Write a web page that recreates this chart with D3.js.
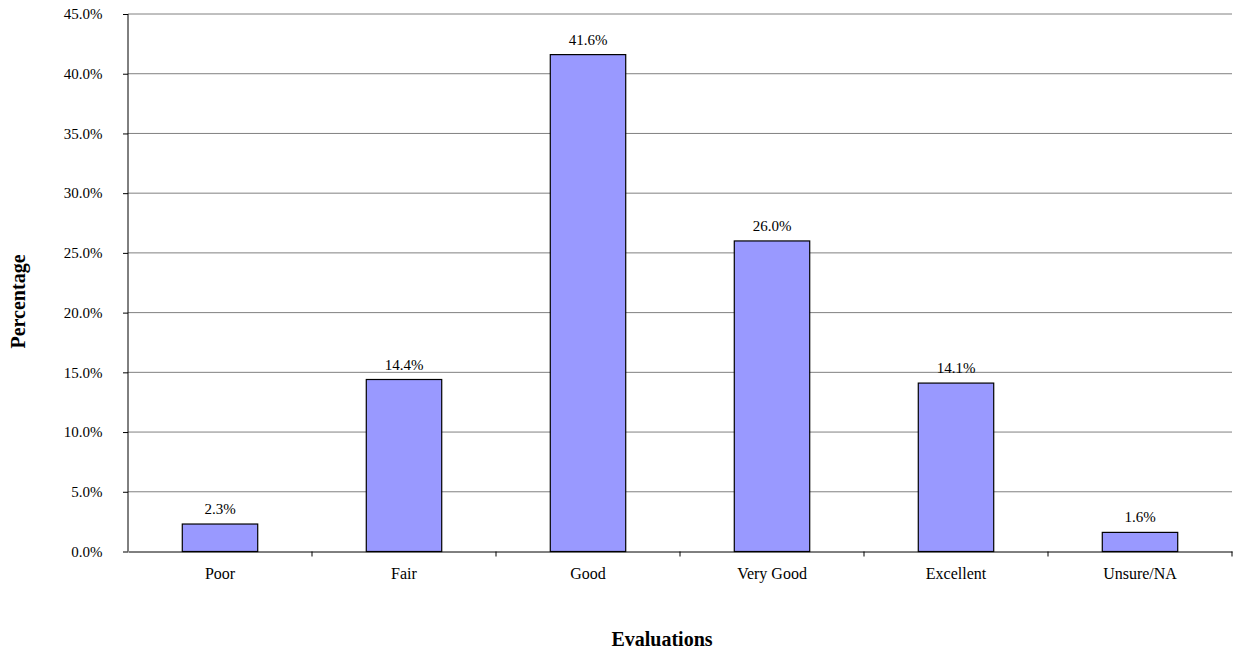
<!DOCTYPE html>
<html><head><meta charset="utf-8">
<script src="https://cdn.jsdelivr.net/npm/d3@7"></script>
<style>body{margin:0;background:#fff}svg{display:block}text{font-family:"Liberation Serif","Times New Roman",serif}</style>
</head><body><svg id="c" width="1233" height="656"></svg>
<script>
const categories = ["Poor","Fair","Good","Very Good","Excellent","Unsure/NA"];
const values = [2.3,14.4,41.6,26.0,14.1,1.6];
const yTicks = [0,5,10,15,20,25,30,35,40,45];

const svg = d3.select("#c");
const m = {l:128, r:1232, t:14, b:551.5};
const x = d3.scaleBand().domain(categories).range([m.l, m.r]).paddingInner(0.59).paddingOuter(0.295);
const xb = d3.scaleBand().domain(categories).range([m.l, m.r]);
const y = d3.scaleLinear().domain([0,45]).range([m.b, m.t]);

// gridlines
svg.append("g").selectAll("line").data(yTicks.filter(d=>d>0)).join("line")
  .attr("x1", m.l).attr("x2", m.r).attr("y1", d=>y(d)).attr("y2", d=>y(d))
  .attr("stroke", "#808080").attr("stroke-width", 1);

// y axis
const ya = svg.append("g").attr("transform", `translate(${m.l},0)`)
  .call(d3.axisLeft(y).tickValues(yTicks).tickFormat(d=>d.toFixed(1)+"%").tickSize(5).tickPadding(20.5));
ya.select(".domain").attr("stroke","#000").attr("d", `M0,${m.t}V${m.b}`);
ya.selectAll("text").attr("font-size", 15).attr("fill","#000").attr("font-family","Liberation Serif");

// x axis
const xa = svg.append("g").attr("transform", `translate(0,${m.b})`)
  .call(d3.axisBottom(xb).tickSize(0).tickPadding(16));
xa.select(".domain").attr("stroke","#000");
xa.selectAll("text").attr("font-size", 16).attr("fill","#000").attr("font-family","Liberation Serif");
svg.append("g").selectAll("line").data(categories.slice(1).concat(["__end"])).join("line")
  .attr("x1", (d,i)=>m.l + (i+1)*xb.bandwidth()).attr("x2",(d,i)=>m.l + (i+1)*xb.bandwidth())
  .attr("y1", m.b).attr("y2", m.b+5).attr("stroke","#000");

// bars
svg.append("g").selectAll("rect").data(values).join("rect")
  .attr("x", (d,i)=>x(categories[i])).attr("width", x.bandwidth())
  .attr("y", d=>y(d)).attr("height", d=>m.b - y(d))
  .attr("fill", "#9999FF").attr("stroke", "#000").attr("stroke-width", 1.2);

// labels
svg.append("g").selectAll("text").data(values).join("text")
  .attr("x", (d,i)=>x(categories[i]) + x.bandwidth()/2).attr("y", d=>y(d)-10)
  .attr("text-anchor","middle").attr("font-size",15).text(d=>d.toFixed(1)+"%");

svg.append("text").attr("x", 662).attr("y", 646).attr("text-anchor","middle")
  .attr("font-size",20).attr("font-weight","bold").text("Evaluations");
svg.append("text").attr("transform","translate(25,301.5) rotate(-90)").attr("text-anchor","middle")
  .attr("font-size",20).attr("font-weight","bold").text("Percentage");
</script></body></html>
